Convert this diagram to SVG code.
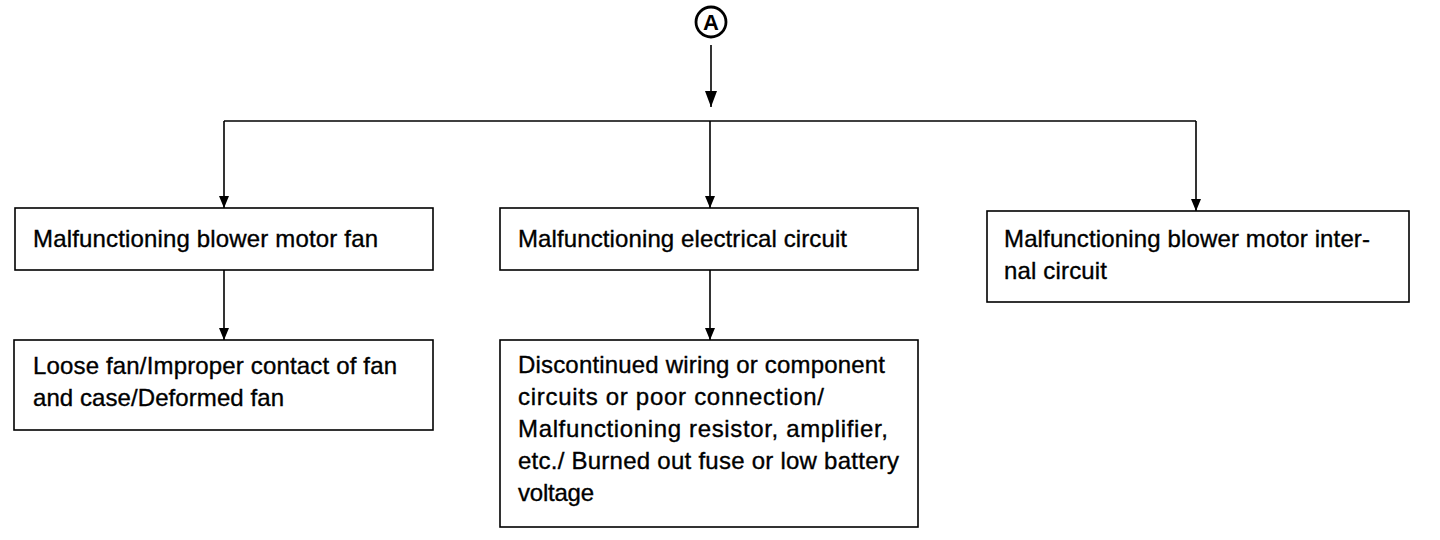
<svg xmlns="http://www.w3.org/2000/svg" width="1440" height="540" viewBox="0 0 1440 540">
<defs>
<style>
.box{fill:#fff;stroke:#000;stroke-width:1.6}
.t{font-family:"Liberation Sans",Arial,sans-serif;font-size:24px;fill:#000;stroke:#000;stroke-width:0.35}
.ln{stroke:#000;stroke-width:1.6;fill:none}
</style>
<marker id="ah" viewBox="0 0 12 10" refX="12" refY="5" markerWidth="12" markerHeight="10" markerUnits="userSpaceOnUse" orient="auto">
<path d="M0,0 L12,5 L0,10 Z" fill="#000"/>
</marker>
<marker id="ahb" viewBox="0 0 16 12" refX="16" refY="6" markerWidth="16" markerHeight="12" markerUnits="userSpaceOnUse" orient="auto">
<path d="M0,0 L16,6 L0,12 Z" fill="#000"/>
</marker>
</defs>
<rect width="1440" height="540" fill="#fff"/>
<g id="nodeA">
<circle cx="711" cy="22" r="15" fill="#fff" stroke="#000" stroke-width="2.8"/>
<text x="711" y="30" text-anchor="middle" font-family="Liberation Sans,Arial,sans-serif" font-weight="bold" font-size="22">A</text>
</g>
<g id="connectors">
<path class="ln" d="M711,45 V107" marker-end="url(#ahb)"/>
<path class="ln" d="M224,121 H1196"/>
<path class="ln" d="M224,121 V208" marker-end="url(#ah)"/>
<path class="ln" d="M710,121 V208" marker-end="url(#ah)"/>
<path class="ln" d="M1196,121 V211" marker-end="url(#ah)"/>
<path class="ln" d="M224,270 V340" marker-end="url(#ah)"/>
<path class="ln" d="M710,270 V340" marker-end="url(#ah)"/>
</g>
<g id="box1">
<rect class="box" x="15" y="208" width="418" height="62"/>
<text class="t" x="33" y="247" textLength="345" lengthAdjust="spacing">Malfunctioning blower motor fan</text>
</g>
<g id="box2">
<rect class="box" x="500" y="208" width="418" height="62"/>
<text class="t" x="518" y="247" textLength="329" lengthAdjust="spacing">Malfunctioning electrical circuit</text>
</g>
<g id="box3">
<rect class="box" x="987" y="211" width="422" height="91"/>
<text class="t" x="1004" y="247" textLength="366" lengthAdjust="spacing">Malfunctioning blower motor inter-</text>
<text class="t" x="1004" y="279" textLength="103" lengthAdjust="spacing">nal circuit</text>
</g>
<g id="box4">
<rect class="box" x="14" y="340" width="419" height="90"/>
<text class="t" x="33" y="374" textLength="364" lengthAdjust="spacing">Loose fan/Improper contact of fan</text>
<text class="t" x="33" y="406" textLength="251" lengthAdjust="spacing">and case/Deformed fan</text>
</g>
<g id="box5">
<rect class="box" x="500" y="340" width="418" height="187"/>
<text class="t" x="518" y="373" textLength="367" lengthAdjust="spacing">Discontinued wiring or component</text>
<text class="t" x="518" y="405" textLength="306" lengthAdjust="spacing">circuits or poor connection/</text>
<text class="t" x="518" y="437" textLength="370" lengthAdjust="spacing">Malfunctioning resistor, amplifier,</text>
<text class="t" x="518" y="469" textLength="381" lengthAdjust="spacing">etc./ Burned out fuse or low battery</text>
<text class="t" x="518" y="501" textLength="76" lengthAdjust="spacing">voltage</text>
</g>
</svg>
